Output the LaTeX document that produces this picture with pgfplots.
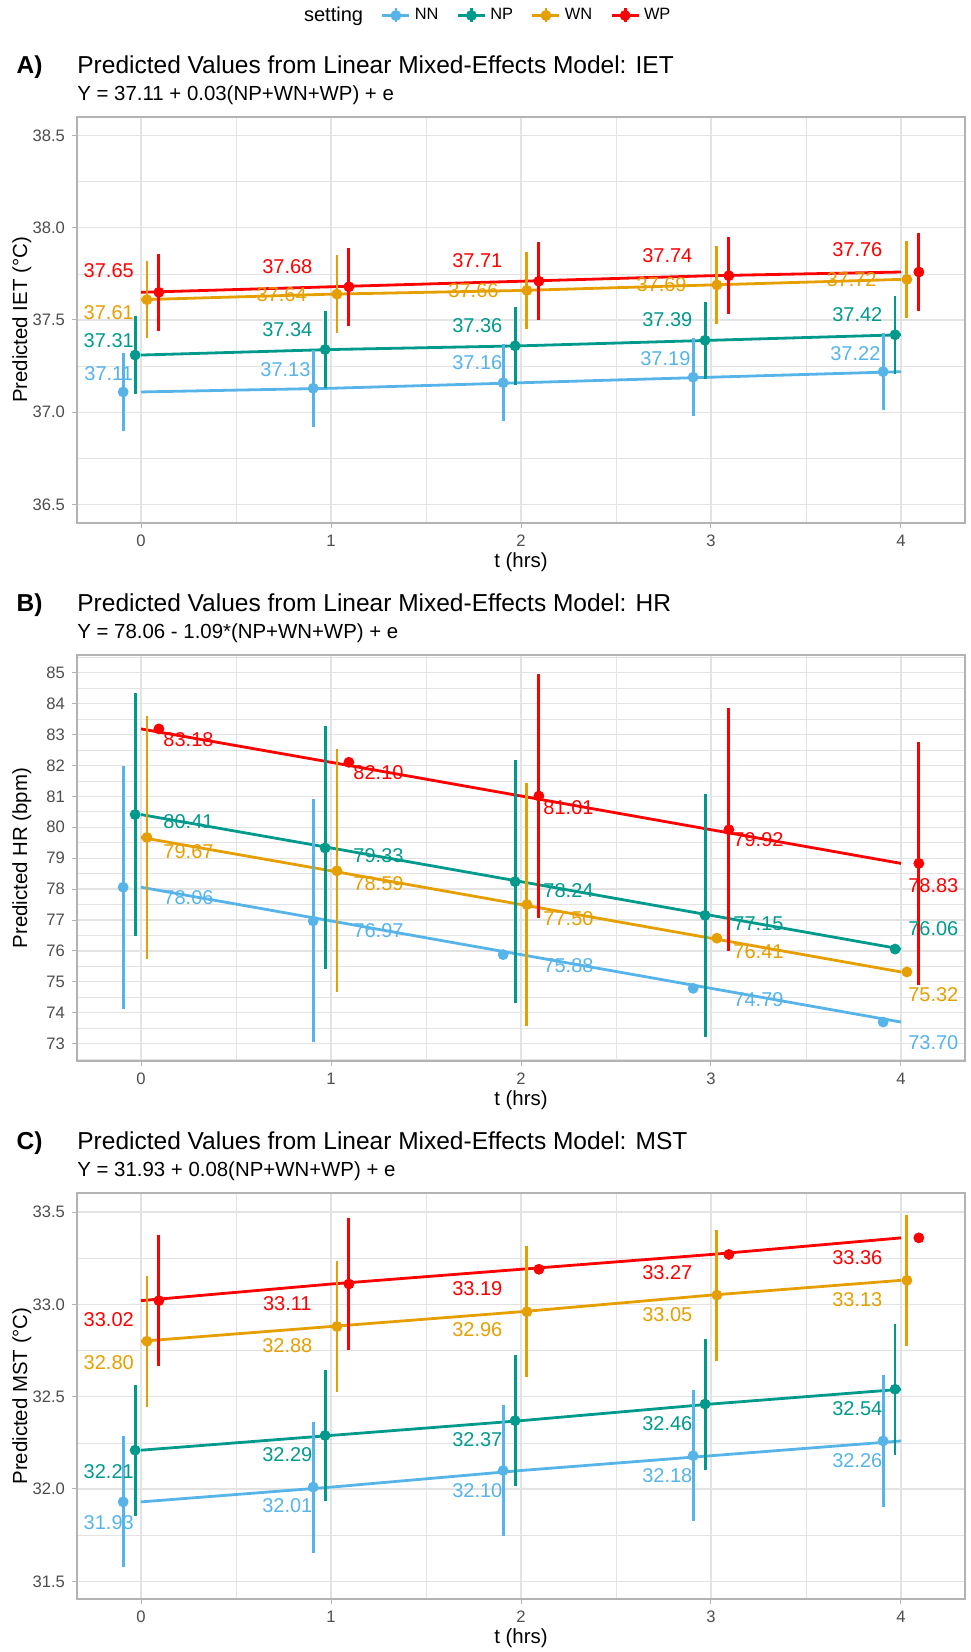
\documentclass[border=0pt]{standalone}
\usepackage{fontspec}
\setmainfont{Liberation Sans}
\usepackage{pgfplots}
\usepackage{pgfplotstable}
\pgfplotsset{compat=1.18}

\definecolor{cNN}{HTML}{56B4E9}
\definecolor{cNP}{HTML}{009A8C}
\definecolor{cWN}{HTML}{E69F00}
\definecolor{cWP}{HTML}{FF0000}
\definecolor{gridc}{HTML}{E3E3E3}
\definecolor{framec}{HTML}{B3B3B3}
\definecolor{tickc}{HTML}{4D4D4D}

% t, predicted values, half-width of the interval (0 = not drawn), label positions
\pgfplotstableread{
t NN NP WN WP eNN eNP eWN eWP xNN yNN xNP yNP xWN yWN xWP yWP
0 37.11 37.31 37.61 37.65 0.21 0.21 0.21 0.21 -0.17 37.21 -0.17 37.39 -0.17 37.54 -0.17 37.77
1 37.13 37.34 37.64 37.68 0.21 0.21 0.21 0.21 0.76 37.23 0.77 37.45 0.74 37.64 0.77 37.79
2 37.16 37.36 37.66 37.71 0.21 0.21 0.21 0.21 1.77 37.27 1.77 37.47 1.75 37.66 1.77 37.82
3 37.19 37.39 37.69 37.74 0.21 0.21 0.21 0.21 2.76 37.29 2.77 37.50 2.74 37.69 2.77 37.85
4 37.22 37.42 37.72 37.76 0.21 0.21 0.21 0.21 3.76 37.32 3.77 37.53 3.74 37.72 3.77 37.88
}\tA

\pgfplotstableread{
t NN NP WN WP eNN eNP eWN eWP xNN yNN xNP yNP xWN yWN xWP yWP
0 78.06 80.41 79.67 83.18 3.93 3.93 3.93 0 0.25 77.73 0.25 80.17 0.25 79.22 0.25 82.84
1 76.97 79.33 78.59 82.10 3.93 3.93 3.93 0 1.25 76.65 1.25 79.09 1.25 78.17 1.25 81.76
2 75.88 78.24 77.50 81.01 0 3.93 3.93 3.93 2.25 75.54 2.25 77.95 2.25 77.03 2.25 80.65
3 74.79 77.15 76.41 79.92 0 3.93 0 3.93 3.25 74.44 3.25 76.87 3.25 75.97 3.25 79.60
4 73.70 76.06 75.32 78.83 0 0 0 3.93 4.17 73.03 4.17 76.73 4.17 74.60 4.17 78.11
}\tB

\pgfplotstableread{
t NN NP WN WP eNN eNP eWN eWP xNN yNN xNP yNP xWN yWN xWP yWP
0 31.93 32.21 32.80 33.02 0.355 0.355 0.355 0.355 -0.17 31.818 -0.17 32.094 -0.17 32.685 -0.17 32.916
1 32.01 32.29 32.88 33.11 0.355 0.355 0.355 0.355 0.77 31.908 0.77 32.187 0.77 32.775 0.77 33.002
2 32.10 32.37 32.96 33.19 0.355 0.355 0.355 0 1.77 31.993 1.77 32.268 1.77 32.862 1.77 33.087
3 32.18 32.46 33.05 33.27 0.355 0.355 0.355 0 2.77 32.075 2.77 32.353 2.77 32.943 2.77 33.171
4 32.26 32.54 33.13 33.36 0.355 0.355 0.355 0 3.77 32.156 3.77 32.434 3.77 33.027 3.77 33.252
}\tC

% dodge offsets
\def\offNN{(-0.094)}
\def\offNP{(-0.031)}
\def\offWN{(0.031)}
\def\offWP{(0.094)}

\newcommand\ftitle{\fontsize{12.25}{14}\selectfont}
\newcommand\fsub{\fontsize{10.2}{12}\selectfont}

\pgfplotsset{
  panel/.style={
    width=444pt, height=203pt, scale only axis,
    xmin=-0.337, xmax=4.337,
    xtick={0,1,2,3,4}, minor xtick={0.5,1.5,2.5,3.5},
    grid=both,
    major grid style={draw=gridc, line width=0.6pt},
    minor grid style={draw=gridc, line width=0.3pt},
    axis line style={draw=framec, line width=1pt},
    tick align=outside, tick pos=left,
    major tick length=2.5pt, minor tick length=0pt,
    tick style={draw=framec, line width=0.5pt},
    ticklabel style={font=\fontsize{8.3}{10}\selectfont, text=tickc},
    /pgf/number format/assume math mode=true,
    xlabel={t (hrs)},
    every axis x label/.style={at={(axis description cs:0.5,-0.096)}, anchor=center},
    every axis y label/.style={at={(axis description cs:-0.062,0.5)}, rotate=90, anchor=center},
    label style={font=\fontsize{10.2}{12}\selectfont},
    clip=false,
  },
  key/.style={legend image code/.code={
    \draw[line width=1.4pt] (0pt,0pt) -- (13.5pt,0pt);
    \draw[line width=1.4pt] (6.75pt,-3.5pt) -- (6.75pt,3.5pt);
    \fill (6.75pt,0pt) circle (2.5pt);}},
}

\newcommand\drawpanel[1]{%
  \pgfplotsinvokeforeach{NN,NP,WN,WP}{
    \addplot[c##1, line width=1.4pt, mark=none] table[x=t, y=##1] {#1};
  }
  \pgfplotsinvokeforeach{NN,NP,WN,WP}{
    \addplot[c##1, line width=1.4pt, only marks, mark=*, mark size=2.5pt,
      mark options={line width=0.4pt},
      error bars/.cd, y dir=both, y explicit, error mark=none,
      error bar style={line width=1.4pt, line cap=butt, c##1}]
      table[x expr=\thisrow{t}+\csname off##1\endcsname, y=##1, y error=e##1] {#1};
  }
  \pgfplotsinvokeforeach{NN,NP,WN,WP}{
    \addplot[only marks, mark=none, point meta=explicit,
      nodes near coords={\pgfmathprintnumber[fixed,fixed zerofill,precision=2]{\pgfplotspointmeta}},
      nodes near coords style={anchor=center, inner sep=0pt, text=c##1, font=\fontsize{10}{12}\selectfont}]
      table[x=x##1, y=y##1, meta=##1] {#1};
  }
}

\begin{document}
\begin{tikzpicture}
\useasboundingbox (0,0) rectangle (485pt,-826pt);

% A
\begin{axis}[panel, at={(38.5pt,-58.5pt)}, anchor=north west,
  ymin=36.4, ymax=38.6,
  ytick={36.5,37,37.5,38,38.5}, minor ytick={36.75,37.25,37.75,38.25},
  yticklabel style={/pgf/number format/fixed, /pgf/number format/fixed zerofill, /pgf/number format/precision=1},
  ylabel={Predicted IET (°C)},
  legend columns=-1,
  legend style={at={(axis description cs:0.462,1.25)}, anchor=center, draw=none, fill=none,
    font=\fontsize{8.2}{10}\selectfont,
    /tikz/every even column/.append style={column sep=7pt}},
]
\addlegendimage{empty legend}
\addlegendentry{\fontsize{10}{12}\selectfont setting}
\addlegendimage{cNN, key}
\addlegendentry{NN}
\addlegendimage{cNP, key}
\addlegendentry{NP}
\addlegendimage{cWN, key}
\addlegendentry{WN}
\addlegendimage{cWP, key}
\addlegendentry{WP}
\drawpanel{\tA}
\end{axis}

% B
\begin{axis}[panel, at={(38.5pt,-327.5pt)}, anchor=north west,
  ymin=72.44, ymax=85.57,
  ytick={73,74,...,85}, minor ytick={72.5,73.5,...,85.5},
  ylabel={Predicted HR (bpm)},
]
\drawpanel{\tB}
\end{axis}

% C
\begin{axis}[panel, at={(38.5pt,-596.5pt)}, anchor=north west,
  ymin=31.404, ymax=33.603,
  ytick={31.5,32,32.5,33,33.5}, minor ytick={31.75,32.25,32.75,33.25},
  yticklabel style={/pgf/number format/fixed, /pgf/number format/fixed zerofill, /pgf/number format/precision=1},
  ylabel={Predicted MST (°C)},
]
\drawpanel{\tC}
\end{axis}

% panel titles
\node[anchor=base, font=\bfseries\ftitle] at (14.75pt,-36.65pt) {A)};
\node[anchor=base west, inner sep=0pt, font=\ftitle] at (38.5pt,-36.65pt) {Predicted Values from Linear Mixed-Effects Model: IET};
\node[anchor=base west, inner sep=0pt, font=\fsub] at (38.5pt,-50.4pt) {Y = 37.11 + 0.03(NP+WN+WP) + e};

\node[anchor=base, font=\bfseries\ftitle] at (14.75pt,-305.65pt) {B)};
\node[anchor=base west, inner sep=0pt, font=\ftitle] at (38.5pt,-305.65pt) {Predicted Values from Linear Mixed-Effects Model: HR};
\node[anchor=base west, inner sep=0pt, font=\fsub] at (38.5pt,-319.4pt) {Y = 78.06 - 1.09*(NP+WN+WP) + e};

\node[anchor=base, font=\bfseries\ftitle] at (14.75pt,-574.65pt) {C)};
\node[anchor=base west, inner sep=0pt, font=\ftitle] at (38.5pt,-574.65pt) {Predicted Values from Linear Mixed-Effects Model: MST};
\node[anchor=base west, inner sep=0pt, font=\fsub] at (38.5pt,-588.4pt) {Y = 31.93 + 0.08(NP+WN+WP) + e};
\end{tikzpicture}
\end{document}
